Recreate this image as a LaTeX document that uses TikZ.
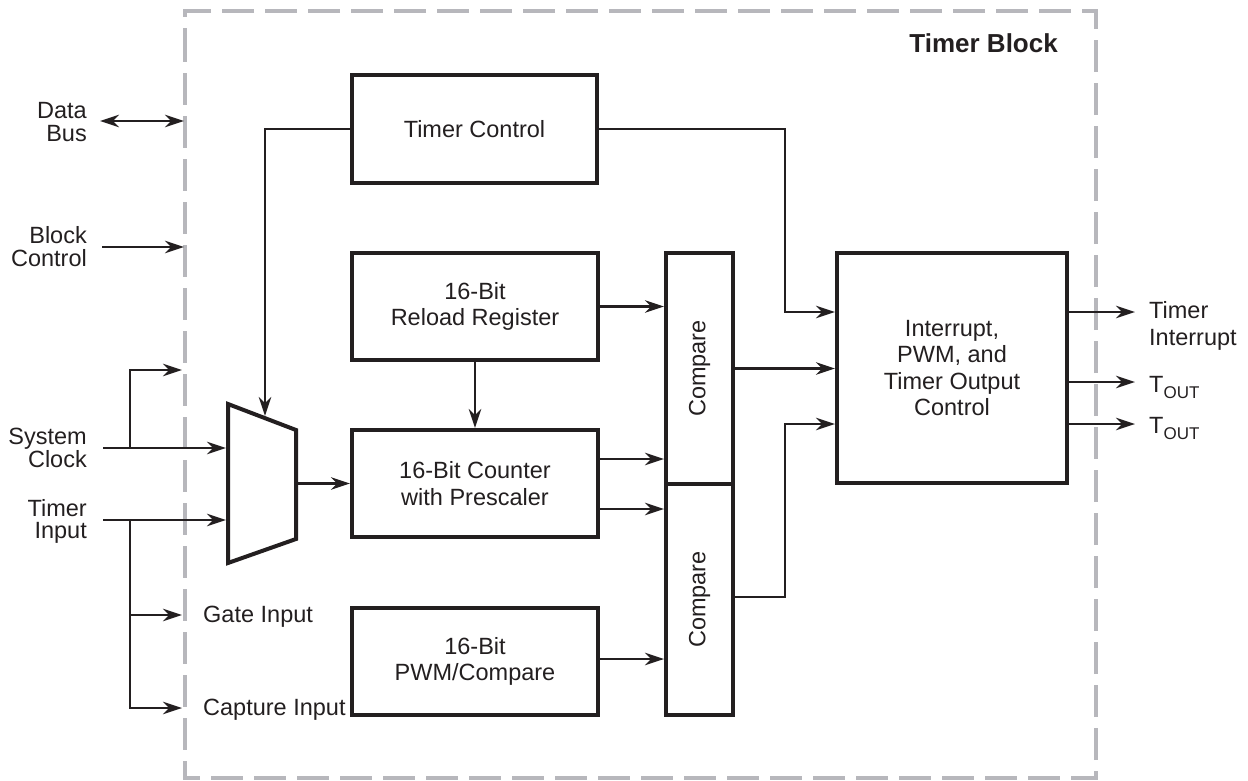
\documentclass[tikz,border=0pt]{standalone}
\usepackage{fontspec}
\setmainfont{Liberation Sans}
\usetikzlibrary{arrows.meta,calc}
\definecolor{ink}{RGB}{35,31,32}
\definecolor{framegray}{RGB}{183,183,188}
\newcommand\lblfont{\fontsize{23.5}{22.5}\selectfont}
\newcommand\boxfont{\fontsize{23.5}{26.5}\selectfont}
\begin{document}
\begin{tikzpicture}[x=1pt,y=-1pt,
  blk/.style={draw=ink, line width=4pt, fill=white, align=center, font=\boxfont, text=ink, inner sep=0pt},
  txt/.style={font=\boxfont, text=ink, inner sep=0pt},
  lbl/.style={font=\lblfont, text=ink, inner sep=0pt},
  conn/.style={draw=ink, line width=2.3pt, -{Stealth[length=19pt,width=12.5pt,inset=6pt]}},
  frm/.style={draw=framegray, line width=4.5pt, dash pattern=on 32pt off 11pt}
]
\useasboundingbox (0,0) rectangle (1248,780);

% dashed block frame
\draw[frm] (185,30) -- (185,778) -- (1096,778) -- (1096,11) -- (185,11) -- cycle;
\node[font=\bfseries\fontsize{26}{26}\selectfont, text=ink, anchor=base east, inner sep=0pt] (tb) at (1058,52) {Timer Block};

% blocks
\node[blk, minimum width=245pt, minimum height=108pt] (tc) at (474.5,129) {Timer Control};
\node[blk, minimum width=246pt, minimum height=107pt] (rr) at (475,306.5) {16-Bit\\Reload Register};
\node[blk, minimum width=246pt, minimum height=107pt] (cnt) at (475,483.5) {16-Bit Counter\\with Prescaler};
\node[blk, minimum width=246pt, minimum height=107pt] (pwm) at (475,661.5) {16-Bit\\PWM/Compare};
\node[blk, minimum width=67pt, minimum height=231pt] (cmp1) at (699.5,368.5) {};
\node[blk, minimum width=67pt, minimum height=231pt] (cmp2) at (699.5,599.5) {};
\node[txt, rotate=90] (cmp1t) at (cmp1.center) {Compare};
\node[txt, rotate=90] (cmp2t) at (cmp2.center) {Compare};
\node[blk, minimum width=230pt, minimum height=230pt] (int) at (952,368) {Interrupt,\\PWM, and\\Timer Output\\Control};

% multiplexer
\draw[ink, line width=4pt, fill=white, line join=miter] (228,404) -- (296,430) -- (296,539) -- (228,563) -- cycle;
\coordinate (muxtop) at (265,416);
\coordinate (muxin1) at (226,448);
\coordinate (muxin2) at (226,520);
\coordinate (muxout) at (298,483.5);

% outside labels, left
\node[lbl, anchor=east, align=right] (db) at (87,122) {Data\\Bus};
\node[lbl, anchor=east, align=right] (bc) at (87,246.5) {Block\\Control};
\node[lbl, anchor=east, align=right] (sc) at (87,448) {System\\Clock};
\node[lbl, anchor=east, align=right] (ti) at (87,521.5) {Timer\\Input};
\node[lbl, anchor=west] (gi) at (203,617) {Gate Input};
\node[lbl, anchor=west] (ci) at (203,710) {Capture Input};

% outside labels, right
\node[txt, anchor=west, align=left] (tint) at (1149,326) {Timer\\Interrupt};
\node[txt, anchor=base west] (tout1) at (1149,392) {T\raisebox{-6pt}{\fontsize{17}{17}\selectfont OUT}};
\node[txt, anchor=base west] (tout2) at (1149,433) {T\raisebox{-6pt}{\fontsize{17}{17}\selectfont OUT}};

% left side connectors
\coordinate (dbL) at (100,121);
\coordinate (dbR) at (184,121);
\draw[conn, {Stealth[length=19pt,width=12.5pt,inset=6pt]}-{Stealth[length=19pt,width=12.5pt,inset=6pt]}] (dbL) -- (dbR);
\coordinate (bcL) at (102,247);
\coordinate (bcR) at (184,247);
\draw[conn] (bcL) -- (bcR);
\coordinate (scS) at (103,448);
\coordinate (tiS) at (103,520);
\coordinate (br1) at (130,448);
\coordinate (br2) at (130,520);
\coordinate (o0) at (182,370);
\coordinate (gate) at (182,615);
\coordinate (capt) at (182,708);
\draw[conn] (scS) -- (muxin1);
\draw[conn] (br1) |- (o0);
\draw[conn] (tiS) -- (muxin2);
\draw[conn] (br2) |- (capt);
\draw[conn] (br2 |- gate) -- (gate);

% internal connectors
\draw[conn] (tc.west) -| (muxtop);
\coordinate (j1) at (785,312);
\draw[conn] (tc.east) -| (j1) -- (j1 -| int.west);
\draw[conn] (rr.east) -- (rr.east -| cmp1.west);
\draw[conn] (rr.south) -- (cnt.north);
\draw[conn] (muxout) -- (cnt.west);
\coordinate (c1) at ([yshift=24.5pt]cnt.east);
\coordinate (c2) at ([yshift=-25.5pt]cnt.east);
\draw[conn] (c1) -- (c1 -| cmp1.west);
\draw[conn] (c2) -- (c2 -| cmp2.west);
\coordinate (p1) at ([yshift=2.5pt]pwm.east);
\draw[conn] (p1) -- (p1 -| cmp2.west);
\draw[conn] (cmp1.east) -- (cmp1.east -| int.west);
\coordinate (j2) at (785,424);
\coordinate (k2) at ([yshift=2.5pt]cmp2.east);
\draw[conn] (k2) -| (j2) -- (j2 -| int.west);

% outputs
\coordinate (q1) at (1135,312);
\coordinate (q2) at (1135,382);
\coordinate (q3) at (1135,424);
\draw[conn] (int.east |- q1) -- (q1);
\draw[conn] (int.east |- q2) -- (q2);
\draw[conn] (int.east |- q3) -- (q3);
\end{tikzpicture}
\end{document}
